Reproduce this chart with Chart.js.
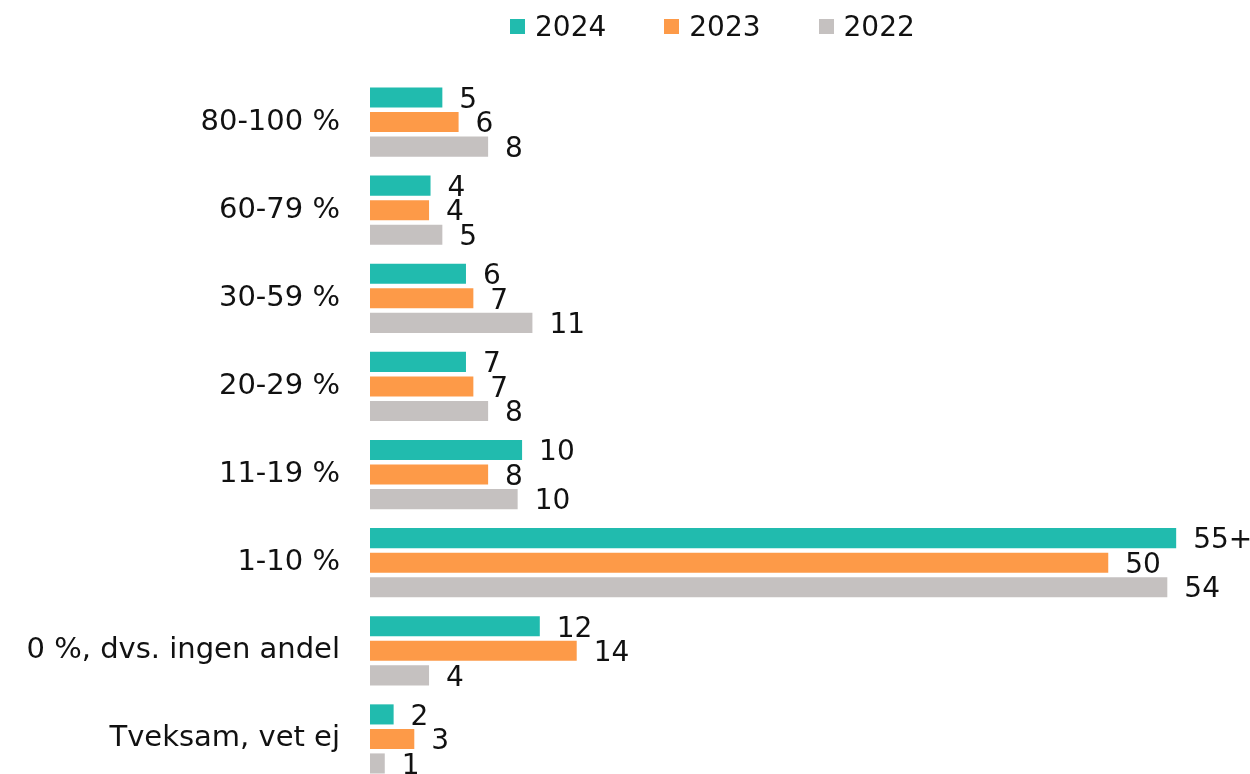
<!DOCTYPE html>
<html>
<head>
<meta charset="utf-8">
<script src="https://cdn.jsdelivr.net/npm/chart.js@4"></script>
<style>
  html, body { margin: 0; padding: 0; background: #fff; overflow: hidden; }
  #wrap { position: relative; width: 1250px; height: 790px; }
  #legend { position: absolute; top: 10px; left: 510px; display: flex; font-family: "DejaVu Sans", sans-serif; font-size: 28px; color: #111; }
  #legend .item { display: flex; align-items: center; margin-right: 58px; }
  #legend .box { width: 15px; height: 15px; margin-right: 10px; }
</style>
</head>
<body>
<div id="wrap">
  <canvas id="chart" width="1250" height="790"></canvas>
  <div id="legend"></div>
</div>
<script>
(function () {
  const categories = ['80-100 %', '60-79 %', '30-59 %', '20-29 %', '11-19 %', '1-10 %', '0 %, dvs. ingen andel', 'Tveksam, vet ej'];
  const years = ['2024', '2023', '2022'];
  const colors = ['#21BBAE', '#FD9A48', '#C5C1C0'];

  // bar lengths
  const v2024 = [4.9, 4.1, 6.5, 6.5, 10.3, 54.6, 11.5, 1.6];
  const v2023 = [6.0, 4.0, 7.0, 7.0, 8.0, 50.0, 14.0, 3.0];
  const v2022 = [8.0, 4.9, 11.0, 8.0, 10.0, 54.0, 4.0, 1.0];

  // printed labels
  const l2024 = ['5', '4', '6', '7', '10', '55+', '12', '2'];
  const l2023 = ['6', '4', '7', '7', '8', '50', '14', '3'];
  const l2022 = ['8', '5', '11', '8', '10', '54', '4', '1'];

  const values = [v2024, v2023, v2022];
  const labels = [l2024, l2023, l2022];
  const FONT = '"DejaVu Sans", sans-serif';

  // HTML legend
  document.getElementById('legend').innerHTML = years.map((y, i) =>
    `<div class="item"><div class="box" style="background:${colors[i]}"></div>${y}</div>`).join('');

  const barLabels = {
    id: 'barLabels',
    afterDatasetsDraw(chart) {
      const ctx = chart.ctx;
      ctx.save();
      ctx.font = '28px ' + FONT;
      ctx.fillStyle = '#111';
      ctx.textAlign = 'left';
      ctx.textBaseline = 'middle';
      chart.data.datasets.forEach((ds, di) => {
        chart.getDatasetMeta(di).data.forEach((bar, i) => {
          ctx.fillText(labels[di][i], bar.x + 17, bar.y + 3);
        });
      });
      ctx.restore();
    }
  };

  new Chart(document.getElementById('chart').getContext('2d'), {
    type: 'bar',
    data: {
      labels: categories,
      datasets: years.map((y, i) => ({
        label: y, data: values[i], backgroundColor: colors[i],
        categoryPercentage: 0.835, barPercentage: 0.82
      }))
    },
    options: {
      indexAxis: 'y',
      responsive: false,
      animation: false,
      layout: { padding: { top: 78, bottom: 7, left: 0, right: 0 } },
      plugins: { legend: { display: false }, tooltip: { enabled: false } },
      scales: {
        x: { min: 0, max: 59.6, display: false },
        y: {
          grid: { display: false, drawTicks: false },
          border: { display: false },
          ticks: { padding: 30, color: '#111', font: { family: FONT, size: 29 } },
          afterFit: (s) => { s.width = 370; s.paddingTop = 0; s.paddingBottom = 0; }
        }
      }
    },
    plugins: [barLabels]
  });
})();
</script>
</body>
</html>
